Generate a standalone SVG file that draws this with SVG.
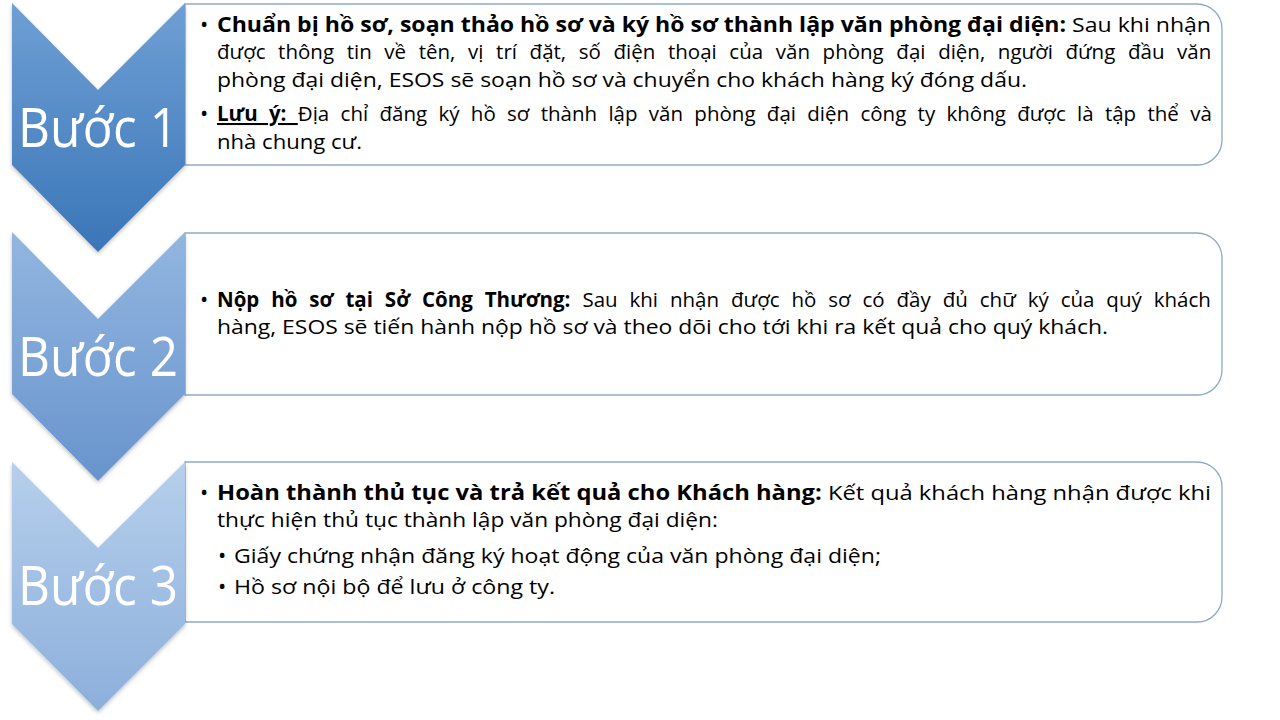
<svg xmlns="http://www.w3.org/2000/svg" width="1280" height="720" viewBox="0 0 1280 720">
<defs>
<linearGradient id="g1" x1="0" y1="0" x2="0" y2="1"><stop offset="0" stop-color="#6f9fd4"/><stop offset="1" stop-color="#3a76b8"/></linearGradient>
<linearGradient id="g2" x1="0" y1="0" x2="0" y2="1"><stop offset="0" stop-color="#93b6e0"/><stop offset="1" stop-color="#6894cd"/></linearGradient>
<linearGradient id="g3" x1="0" y1="0" x2="0" y2="1"><stop offset="0" stop-color="#b6cfec"/><stop offset="1" stop-color="#8cafdb"/></linearGradient>
<filter id="sh" x="-10%" y="-10%" width="130%" height="130%"><feGaussianBlur in="SourceAlpha" stdDeviation="2"/><feOffset dx="0" dy="2"/><feComponentTransfer><feFuncA type="linear" slope="0.25"/></feComponentTransfer><feMerge><feMergeNode/><feMergeNode in="SourceGraphic"/></feMerge></filter>
</defs>
<style>
.box{fill:#ffffff;stroke:#8ea9c8;stroke-width:1.3}
.step{font-family:"Open Sans","Noto Sans","DejaVu Sans",sans-serif;font-size:54px;fill:#ffffff;text-anchor:middle}
.t{font-family:"Open Sans","Noto Sans","DejaVu Sans",sans-serif;font-size:20.5px;fill:#000000}
.d{font-family:"Open Sans","Noto Sans","DejaVu Sans",sans-serif;font-size:22px;fill:#000000}
.b{font-weight:bold}
.u{text-decoration:underline}
</style>
<rect width="1280" height="720" fill="#ffffff"/>
<g id="step1">
<path class="box" d="M185,4 H1197 A25,25 0 0 1 1222,29 V140 A25,25 0 0 1 1197,165 H185 Z"/>
<path d="M12,3 L98,90 L185,3 L185,165 L98,252 L12,165 Z" fill="url(#g1)" filter="url(#sh)"/>
<text class="step" x="98" y="147" textLength="160" lengthAdjust="spacingAndGlyphs">Bước 1</text>
<text class="d" x="200" y="32">•</text>
<text class="t" x="217" y="32" textLength="994" lengthAdjust="spacingAndGlyphs"><tspan class="b">Chuẩn bị hồ sơ, soạn thảo hồ sơ và ký hồ sơ thành lập văn phòng đại diện:</tspan> Sau khi nhận</text>
<text class="t" x="217" y="59" style="word-spacing:7.3px">được thông tin về tên, vị trí đặt, số điện thoại của văn phòng đại diện, người đứng đầu văn</text>
<text class="t" x="217" y="87" textLength="810" lengthAdjust="spacingAndGlyphs">phòng đại diện, ESOS sẽ soạn hồ sơ và chuyển cho khách hàng ký đóng dấu.</text>
<text class="d" x="200" y="121">•</text>
<text class="t" x="217" y="121" style="word-spacing:6px"><tspan class="b u">Lưu ý: </tspan>Địa chỉ đăng ký hồ sơ thành lập văn phòng đại diện công ty không được là tập thể và</text>
<text class="t" x="217" y="149" textLength="145" lengthAdjust="spacingAndGlyphs">nhà chung cư.</text>
</g>
<g id="step2">
<path class="box" d="M185,233 H1197 A25,25 0 0 1 1222,258 V370 A25,25 0 0 1 1197,395 H185 Z"/>
<path d="M12,232 L98,319 L185,232 L185,394 L98,481 L12,394 Z" fill="url(#g2)" filter="url(#sh)"/>
<text class="step" x="98" y="376" textLength="160" lengthAdjust="spacingAndGlyphs">Bước 2</text>
<text class="d" x="200" y="307">•</text>
<text class="t" x="217" y="307" style="word-spacing:6.6px"><tspan class="b">Nộp hồ sơ tại Sở Công Thương:</tspan> Sau khi nhận được hồ sơ có đầy đủ chữ ký của quý khách</text>
<text class="t" x="217" y="334" textLength="891" lengthAdjust="spacingAndGlyphs">hàng, ESOS sẽ tiến hành nộp hồ sơ và theo dõi cho tới khi ra kết quả cho quý khách.</text>
</g>
<g id="step3">
<path class="box" d="M185,462 H1197 A25,25 0 0 1 1222,487 V597 A25,25 0 0 1 1197,622 H185 Z"/>
<path d="M12,462 L98,548 L185,462 L185,624 L98,711 L12,624 Z" fill="url(#g3)" filter="url(#sh)"/>
<text class="step" x="98" y="605" textLength="160" lengthAdjust="spacingAndGlyphs">Bước 3</text>
<text class="d" x="200" y="500">•</text>
<text class="t" x="217" y="500" textLength="994" lengthAdjust="spacingAndGlyphs"><tspan class="b">Hoàn thành thủ tục và trả kết quả cho Khách hàng:</tspan> Kết quả khách hàng nhận được khi</text>
<text class="t" x="217" y="527" textLength="501" lengthAdjust="spacingAndGlyphs">thực hiện thủ tục thành lập văn phòng đại diện:</text>
<text class="d" x="218" y="563">•</text>
<text class="t" x="234" y="563" textLength="647" lengthAdjust="spacingAndGlyphs">Giấy chứng nhận đăng ký hoạt động của văn phòng đại diện;</text>
<text class="d" x="218" y="594">•</text>
<text class="t" x="234" y="594" textLength="321" lengthAdjust="spacingAndGlyphs">Hồ sơ nội bộ để lưu ở công ty.</text>
</g>
</svg>
